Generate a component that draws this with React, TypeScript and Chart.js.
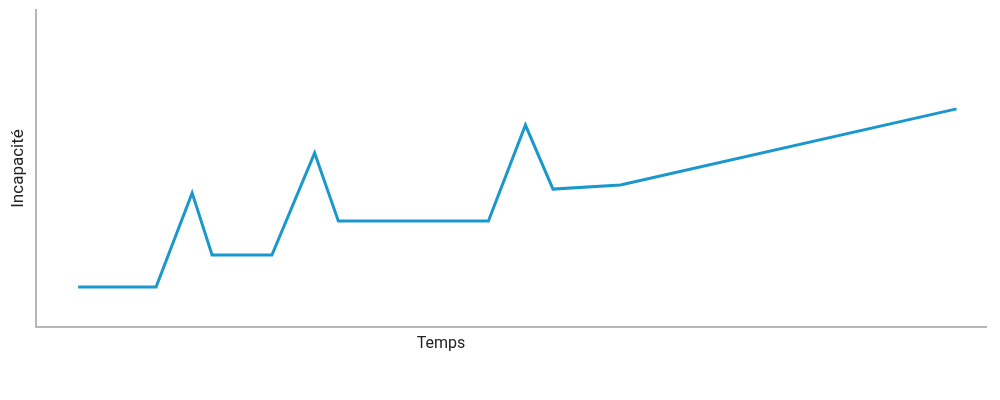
import React, { useEffect, useRef } from "react";
import { Chart, registerables } from "chart.js";

Chart.register(...registerables);

const timeValues = [4.4, 12.6, 16.4, 18.5, 24.8, 29.3, 31.8, 47.6, 51.5, 54.4, 61.5, 96.9];
const incapacityValues = [12.6, 12.6, 42.3, 22.7, 22.7, 54.9, 33.4, 33.4, 63.7, 43.5, 44.8, 68.8];
const xTitle = "Temps";
const yTitle = "Incapacité";

const xTitlePlugin = {
  id: "xTitlePlugin",
  afterDraw(chart: any) {
    const { ctx, chartArea } = chart;
    ctx.save();
    ctx.font = "16px Roboto";
    ctx.fillStyle = "#222";
    ctx.textAlign = "center";
    ctx.textBaseline = "middle";
    const x = chartArea.left + (chartArea.right - chartArea.left) * 0.426;
    ctx.fillText(xTitle, x, chartArea.bottom + 17);
    ctx.restore();
  },
};

export default function App() {
  const ref = useRef<HTMLCanvasElement>(null);
  useEffect(() => {
    if (!ref.current) return;
    const chart = new Chart(ref.current, {
      type: "line",
      data: {
        datasets: [
          {
            data: timeValues.map((x, i) => ({ x, y: incapacityValues[i] })),
            borderColor: "#1a98cd",
            borderWidth: 3,
            pointRadius: 0,
            tension: 0,
            fill: false,
          },
        ],
      },
      options: {
        animation: false,
        responsive: false,
        maintainAspectRatio: false,
        layout: { padding: { top: 10, right: 14, bottom: 73, left: 4 } },
        plugins: { legend: { display: false }, tooltip: { enabled: false } },
        scales: {
          x: {
            type: "linear",
            min: 0,
            max: 100,
            ticks: { display: false },
            grid: { display: false, drawTicks: false },
            border: { display: true, color: "#b4b7ba", width: 2 },
          },
          y: {
            min: 0,
            max: 100,
            ticks: { display: false },
            grid: { display: false, drawTicks: false },
            border: { display: true, color: "#b4b7ba", width: 2 },
            title: {
              display: true,
              text: yTitle,
              color: "#222",
              font: { family: "Roboto", size: 17, weight: "normal" },
              padding: { top: 5, bottom: 7 },
            },
          },
        },
      },
      plugins: [xTitlePlugin],
    });
    return () => chart.destroy();
  }, []);
  return (
    <div style={{ position: "absolute", left: 0, top: 0, width: 1000, height: 400 }}>
      <canvas ref={ref} width={1000} height={400} style={{ width: 1000, height: 400 }} />
    </div>
  );
}
